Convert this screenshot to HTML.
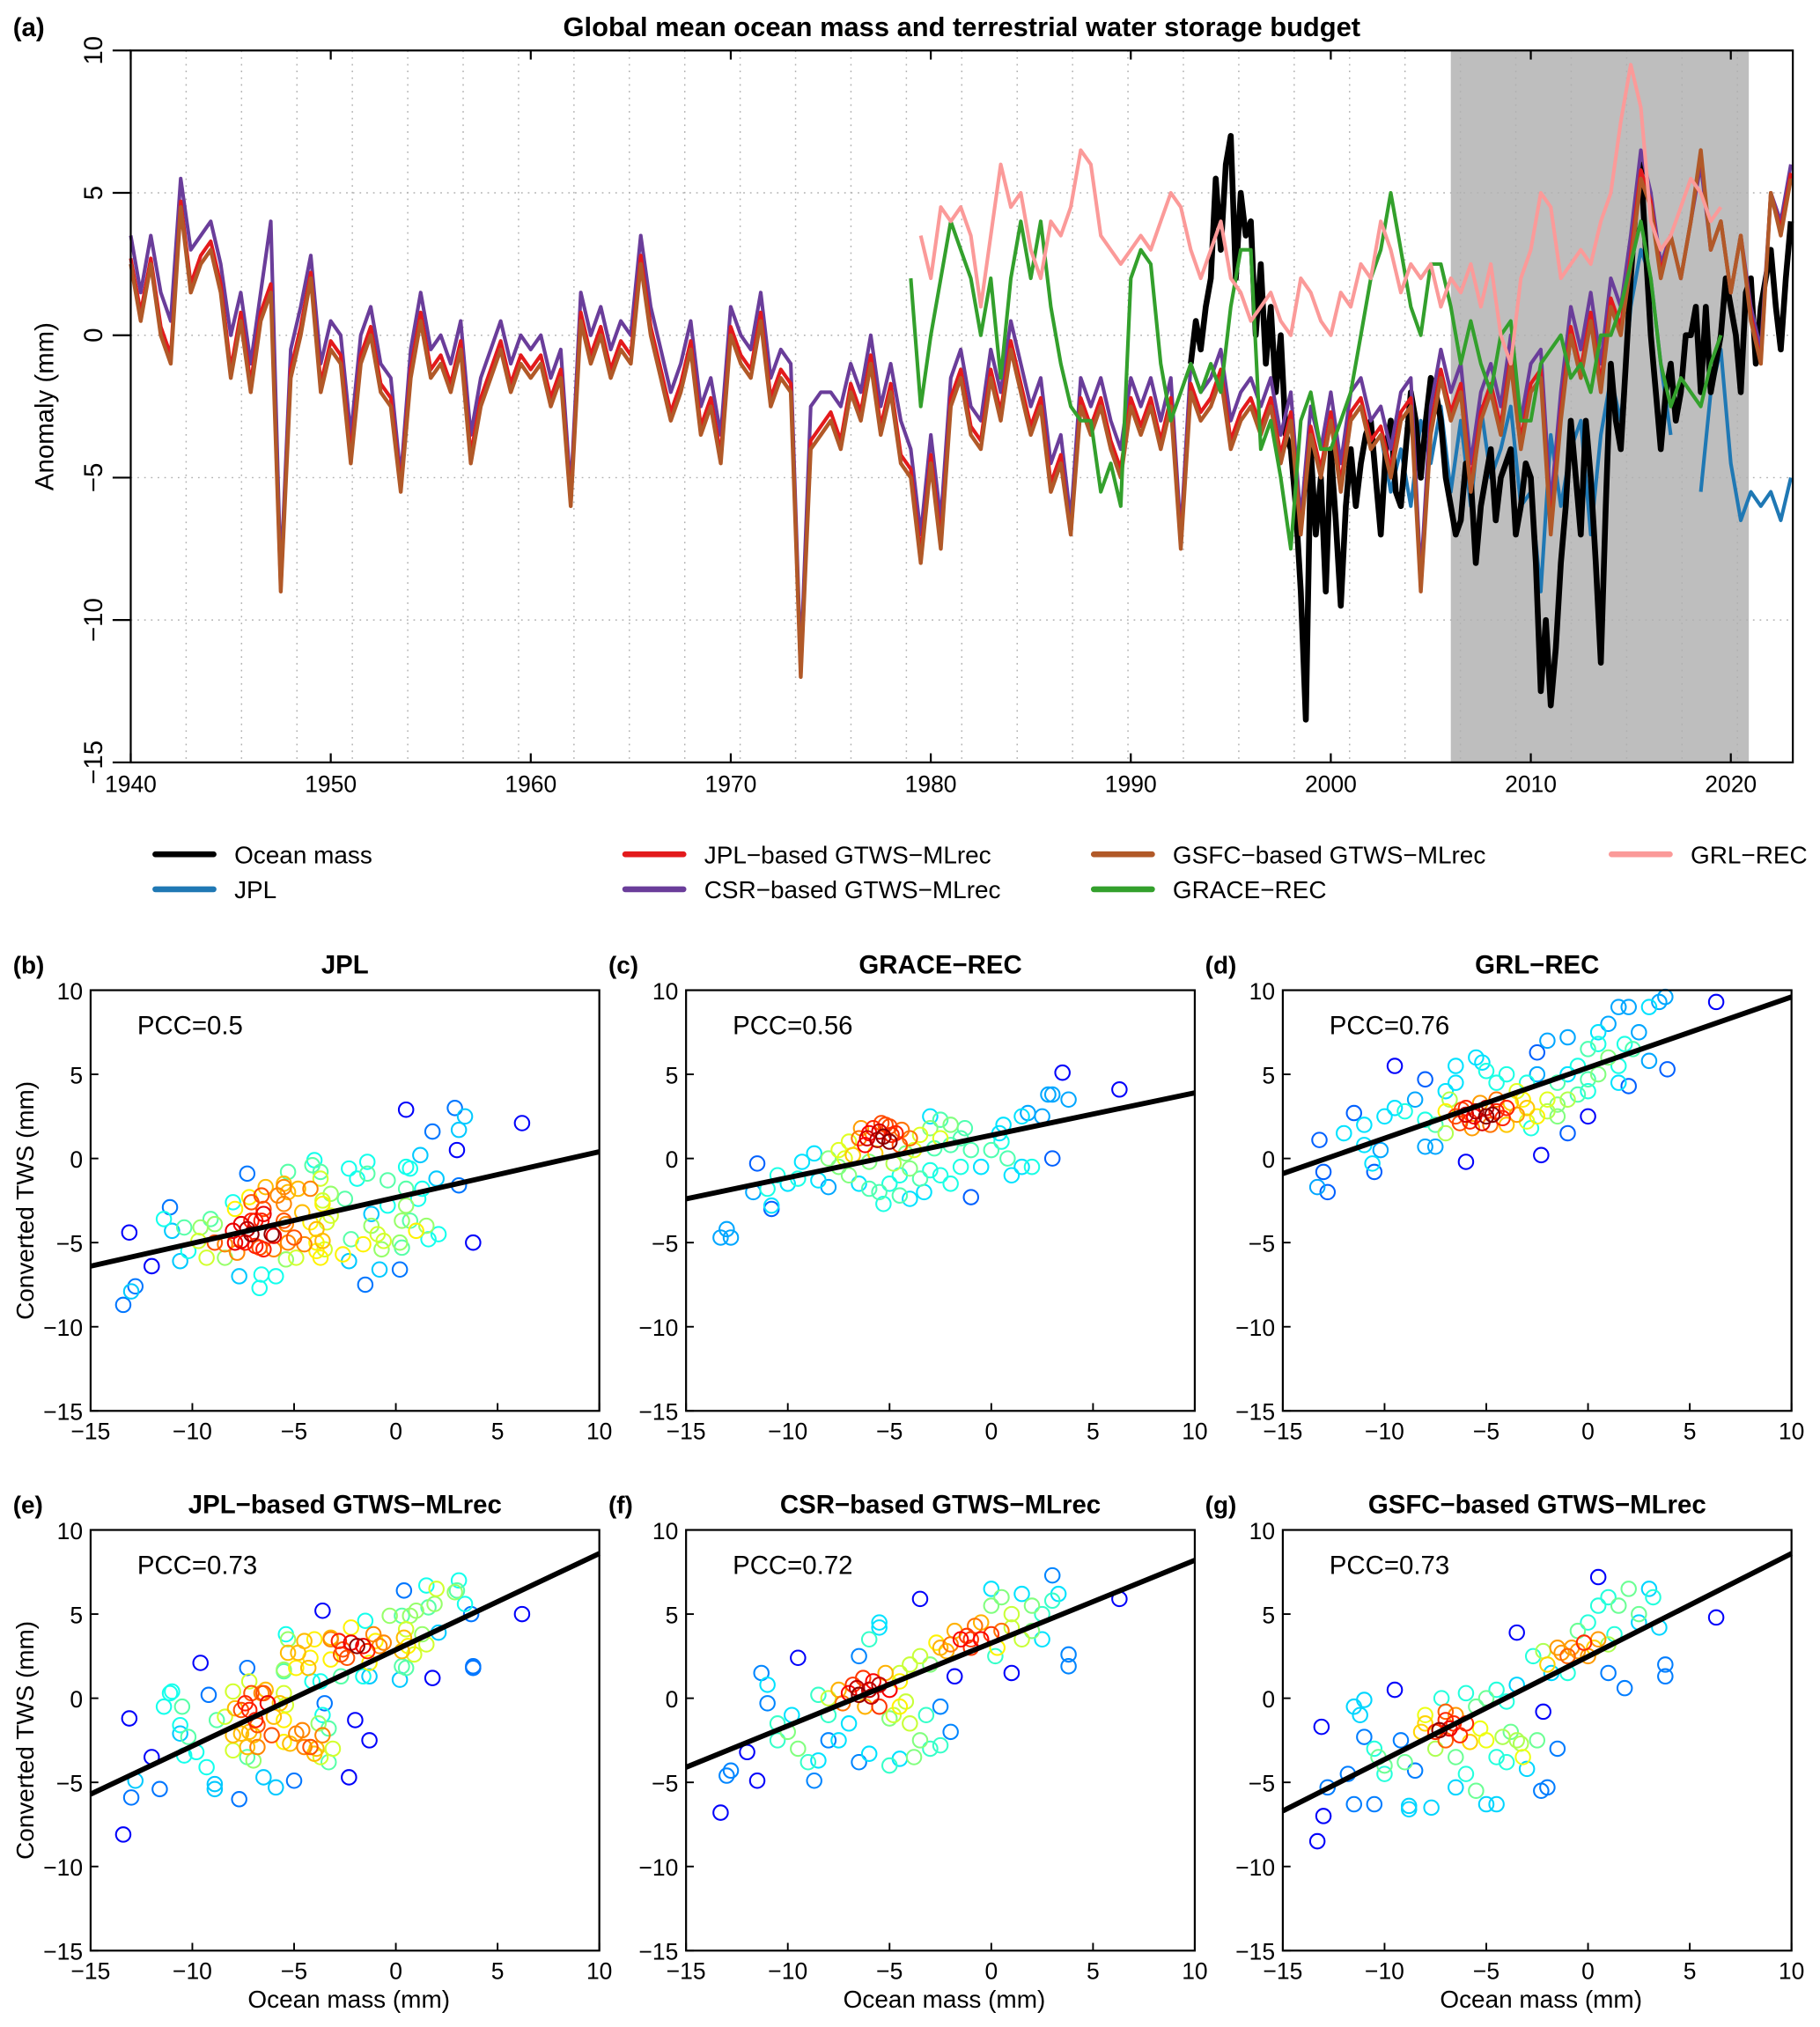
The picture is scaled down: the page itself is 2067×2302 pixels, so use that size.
<!DOCTYPE html>
<html><head><meta charset="utf-8"><style>
html,body{margin:0;padding:0;background:#fff}
svg{display:block;font-family:"Liberation Sans",Arial,sans-serif}
</style></head><body>
<svg id="fig" width="2067" height="2302" viewBox="0 0 1406 1566" preserveAspectRatio="none" xmlns="http://www.w3.org/2000/svg"></svg>
<script>
// ---------- Panel (a) data ----------
const gsfcStart = 1940, halfStep = 0.5;
const gsfc = [2.5,0.5,2.5,0,-1,4.5,1.5,2.5,3,1.5,-1.5,0.5,-2,0.5,1.5,-9,-1.5,0,2,-2,
-0.5,-1,-4.5,-1,0,-2,-2.5,-5.5,-1.5,0.5,-1.5,-1,-2,-0.5,-4.5,-2.5,-1.5,-0.5,-2,-1,
-1.5,-1,-2.5,-1.5,-6,0.5,-1,0,-1.5,-0.5,-1,2.5,0,-1.5,-3,-2,-0.5,-3.5,-2.5,-4.5,
0,-1,-1.5,0.5,-2.5,-1.5,-2,-12,-4,-3.5,-3,-4,-2,-3,-1,-3.5,-2,-4.5,-5,-8,
-4.5,-7.5,-2.5,-1.5,-3.5,-4,-1.5,-3,-0.5,-2,-3.5,-2.5,-5.5,-4.5,-7,-2.5,-3.5,-2.5,-4,-5,
-2.5,-3.5,-2.5,-4,-2.5,-7.5,-2,-3,-2.5,-1.5,-4,-3,-2.5,-3.5,-2.5,-4.5,-3,-7,-3.5,-5,
-3,-5.5,-3,-2.5,-4,-3.5,-5,-3,-2.5,-9,-3.5,-1.5,-3,-2,-5.5,-3,-2,-3.5,-1,-4,
-2,-1.5,-7,-3,0,-1.5,0.5,-2,1,0,2.5,5.5,4.5,2,3.5,2,4,6.5,3,4,
1.5,3.5,0.5,-1,5,3.5,5.5];
const csr = [3.5,1.5,3.5,1.5,0.5,5.5,3,3.5,4,2.5,0,1.5,-1,1.5,4,-8.5,-0.5,1,2.8,-1,
0.5,0,-3.5,0,1,-1,-1.5,-5,-0.5,1.5,-0.5,0,-1,0.5,-3.5,-1.5,-0.5,0.5,-1,0,
-0.5,0,-1.5,-0.5,-5.5,1.5,0,1,-0.5,0.5,0,3.5,1,-0.5,-2,-1,0.5,-2.5,-1.5,-3.5,
1,0,-0.5,1.5,-1.5,-0.5,-1,-11.5,-2.5,-2,-2,-2.5,-1,-2,0,-2.5,-1,-3,-4,-7,
-3.5,-6.5,-1.5,-0.5,-2.5,-3,-0.5,-2,0.5,-1,-2.5,-1.5,-4.5,-3.5,-6.5,-1.5,-2.5,-1.5,-3,-4,
-1.5,-2.5,-1.5,-3,-1.5,-7,-1,-2,-1.5,-0.5,-3,-2,-1.5,-2.5,-1.5,-3.5,-2,-6.5,-2.5,-4,
-2,-4.5,-2,-1.5,-3,-2.5,-4,-2,-1.5,-8.5,-2.5,-0.5,-2,-1,-4.5,-2,-1,-2.5,0,-3,
-1,-0.5,-6,-2,1,-0.5,1.5,-1,2,1,3.5,6.5,5,2.5,3.5,2,4,6,3,4,
1.5,3.5,1,-0.5,5,4,6];
const jplRec = [2.7,0.8,2.7,0.3,-0.7,4.7,1.8,2.8,3.3,1.8,-1.2,0.8,-1.7,0.8,1.8,-8.9,-1.2,0.3,2.2,-1.7,
-0.2,-0.7,-4.2,-0.7,0.3,-1.7,-2.2,-5.3,-1.2,0.8,-1.2,-0.7,-1.7,-0.2,-4.2,-2.2,-1.2,-0.2,-1.7,-0.7,
-1.2,-0.7,-2.2,-1.2,-5.8,0.8,-0.7,0.3,-1.2,-0.2,-0.7,2.8,0.3,-1.2,-2.7,-1.7,-0.2,-3.2,-2.2,-4.2,
0.3,-0.7,-1.2,0.8,-2.2,-1.2,-1.7,-11.9,-3.7,-3.2,-2.7,-3.7,-1.7,-2.7,-0.7,-3.2,-1.7,-4.2,-4.7,-7.7,
-4.2,-7.2,-2.2,-1.2,-3.2,-3.7,-1.2,-2.7,-0.2,-1.7,-3.2,-2.2,-5.2,-4.2,-7,-2.2,-3.2,-2.2,-3.7,-4.7,
-2.2,-3.2,-2.2,-3.7,-2.2,-7.3,-1.7,-2.7,-2.2,-1.2,-3.7,-2.7,-2.2,-3.2,-2.2,-4.2,-2.7,-6.9,-3.2,-4.7,
-2.7,-5.2,-2.7,-2.2,-3.7,-3.2,-4.7,-2.7,-2.2,-8.9,-3.2,-1.2,-2.7,-1.7,-5.2,-2.7,-1.7,-3.2,-0.7,-3.7,
-1.7,-1.2,-6.7,-2.7,0.3,-1.2,0.8,-1.7,1.3,0.3,2.8,5.8,4.7,2.2,3.5,2,4,6.4,3,4,
1.5,3.5,0.7,-0.9,5,3.7,5.7];
const oceanStart = 1993, quarterStep = 0.25;
const ocean = [-1,0.5,-0.5,1, 2,5.5,3,6, 7,2,5,3.5, 4,0,2.5,-1, 1,-2,0,-3.5, -4,-6,-9,-13.5,
-4,-7,-5,-9, -4,-6.5,-9.5,-6, -4,-6,-4.5,-3.5, -3,-5,-7,-4, -3,-5.5,-6,-4, -2,-3,-5,-3,
-1.5,-2,-3,-5, -6,-7,-6.5,-4.5, -5,-8,-6,-5, -4,-6.5,-5,-4.5, -4,-7,-6,-4.5, -5,-8,-12.5,-10,
-13,-11,-8,-6, -3,-5,-7,-3, -5,-8,-11.5,-6, -1,-3,-4,-1, 2,4.5,6,3, 0,-2,-4,-2,
-1,-3,-2,0, 0,1,-2,1, -2,-1,0,2, 1,0,-2,1.5, 2,-1,1,2, 3,1,-0.5,2, 4];
const jplStart = 2002.5;
const jpl = [-3.5,-5.5,-4,-6,-3,-4.5,-2.5,-5.5,-3,-6,-2.5,-5,-4,-2.5,-6,-5.5,-9,-3.5,-6,-4,
-3,-7,-3.5,-1.5,-3,1,3,2,-1,-3.5,null,null,-5.5,-2,-0.5,-4.5,-6.5,-5.5,-6,-5.5,-6.5,-5];
const graceStart = 1979;
const graceRec = [2,-2.5,0,2,4,3,2,0,2,-1.5, 2,4,2,4,1,-1,-2.5,-3,-3,-5.5,
-4.5,-6,2,3,2.5,-1,-3,-2,-1,-2, -1,-2,1,3,3,-4,-3,-5,-7.5,-3,
-2,-4,-4,-3,-2,0,2,3,5,3, 1,0,2.5,2.5,1,-1,0.5,-1,-2,0,
0.5,-3,-3,-1,-0.5,0,-1.5,-1,-2,0, 0,1,2.5,4,2,-1,-2.5,-1.5,-2,-2.5, -1,0];
const grlStart = 1979.5;
const grlRec = [3.5,2,4.5,4,4.5,3.5,1,3.5,6,4.5, 5,3,2,4,3.5,4.5,6.5,6,3.5,3,
2.5,3,3.5,3,4,5,4.5,3,2,3, 4,2,1.5,0.5,1,1.5,0.5,0,2,1.5,
0.5,0,1.5,1,2.5,2,4,3,1.5,2.5, 2,2.5,1,2,1.5,2.5,1,2.5,0,-1,
2,3,5,4.5,2,2.5,3,2.5,4,5, 7.5,9.5,8,4,3,3.5,4.5,5.5,5,4, 4.5];
const xTicksA = [1940,1950,1960,1970,1980,1990,2000,2010,2020];
const yTicksA = [10,5,0,-5,-10,-15];
const shadeYears = [2006, 2020.9];

// ---------- Scatter data ----------
const panelTitles = ["JPL","GRACE\u2212REC","GRL\u2212REC","JPL\u2212based GTWS\u2212MLrec","CSR\u2212based GTWS\u2212MLrec","GSFC\u2212based GTWS\u2212MLrec"];
const panelLetters = ["(b)","(c)","(d)","(e)","(f)","(g)"];
const pccValues = ["0.5","0.56","0.76","0.73","0.72","0.73"];
const fitAtMinus15 = [-6.4,-2.4,-0.9,-5.7,-4.1,-6.7];
const fitAt10 = [0.4,3.9,9.6,8.6,8.2,8.6];
const scatterTicks = [-15,-10,-5,0,5,10];
const ptsB = [[0.5,2.9],[2.9,3],[3.4,2.5],[6.2,2.1],[1.8,1.6],[3.1,1.7],[3,0.5],[1.2,0.2],[3.1,-1.6],[3.8,-5],[-13.1,-4.4],[-13.4,-8.7],[-13,-7.9],[-12.8,-7.6],[-12,-6.4],[-11.4,-3.6],[-11.1,-2.9],[-7.3,-0.9],[-10.6,-6.1],[-7.7,-7],[-6.7,-7.7],[-6.6,-6.9],[-5.9,-7],[-1.5,-7.5],[-0.8,-6.6],[0.2,-6.6],[-4,-0.1],[-4.1,-0.4],[2.1,-4.5],[2,-1.2],
[-11,-4.3],[-10.4,-4.1],[-10.2,-5.5],[-9.3,-5.9],[-9.7,-4.9],[-9.6,-4.1],[-9.1,-3.6],[-8.9,-3.9],[-8.4,-5.9],[-7.8,-5.6],[-8,-2.6],[-7.9,-3],[-7.2,-2.3],[-6.6,-2.2],[-6.4,-1.7],[-7.1,-2.6],[-5.5,-1.5],[-5.3,-0.8],[-5.4,-6],[-4.9,-5.9],[-3.7,-0.8],[-3.7,-1.2],[-4.2,-1.8],[-3.2,-2.1],[-3.6,-2.5],[-2.5,-2.4],[-2.3,-0.6],[-1.4,-0.2],[-1.9,-1.2],[-1.4,-0.9],[-0.4,-1.3],[0.5,-0.5],[0.7,-0.6],[0.5,-1.8],[1.1,-2.4],[1.3,-1.8],[-0.4,-2.8],[0.5,-2.8],[-1.2,-3.3],[-1.2,-4],[-0.9,-4.5],[-0.6,-4.9],[-0.7,-5.4],[-1.6,-5.1],[-2.2,-4.8],[0.3,-3.7],[0.7,-3.7],[1,-4.3],[1.5,-4],[1.6,-4.8],[0.2,-5],[0.3,-5.3],[-2.6,-5.7],[-2.3,-6.1],[-3.7,-5.9],[-3.9,-5.5],[-3.5,-5.4],
[-8.9,-5],[-8.4,-5.1],[-7.9,-5],[-8,-4.3],[-7.6,-3.9],[-7.3,-4.2],[-7.1,-3.7],[-6.9,-3.7],[-6.6,-3.7],[-7.6,-4.9],[-7.4,-5],[-7.1,-4.5],[-6.9,-5.2],[-6.7,-5.3],[-6.5,-3.3],[-6.5,-3],[-6.1,-4.5],[-6,-4.6],[-6,-5.4],[-6.5,-5.4],[-5.5,-3.7],[-5.4,-3.9],[-5.3,-5],[-5,-4.7],[-5.5,-2.7],[-5.8,-2.2],[-5.3,-2],[-4.8,-1.8],[-5.5,-1.7],[-4.6,-3.2],[-4.2,-3.8],[-4.5,-5.1],[-3.9,-4.2],[-3.9,-5],[-3.6,-4.9],[-3.4,-3.8],[-3.2,-3.4],[-3.6,-2.7]];
const ptsC = [[-13.3,-4.7],[-13,-4.2],[-12.8,-4.7],[-11.5,-0.3],[-10.8,-2.8],[-10.8,-3],[-10.5,-1],[-8.5,-1.3],[-5.3,-2.7],[-4.5,-2.2],[-4,-2.4],[-1,-2.3],[0.4,1.5],[0.6,2],[1.5,2.5],[1.8,2.7],[2.5,2.5],[2.8,3.8],[3,3.8],[3.5,5.1],[3.8,3.5],[6.3,4.1],[1.5,-0.5],[2,-0.5],[3,0],[-11.7,-2],[-8,-1.7],
[-11,-1.8],[-10,-1.5],[-9.5,-1.2],[-9.3,-0.2],[-8.7,0.3],[-8,0],[-7.5,-0.5],[-7,-1],[-6.5,-1.5],[-6,-1.8],[-5,-1.5],[-4.5,-1],[-4,-0.6],[-3.5,-1.2],[-3,-0.7],[-2.5,-1],[-2,-1.5],[-1.5,-0.5],[-1,0.5],[0,0.5],[0.5,1],[-1.3,1.8],[-2,2],[-3,2.5],[-2.5,2.3],[-0.5,-0.5],[0.8,0],[1,-1],[-5.5,-2],[-4.8,-0.3],[-3.3,-2],
[-7.5,0.5],[-7,1],[-6.5,1.2],[-6,1.5],[-5.8,1.8],[-5.5,1.6],[-5.3,1.3],[-5,1.9],[-5,1],[-4.7,1.5],[-4.5,0.8],[-6.2,0.8],[-6.8,0.2],[-7.2,0],[-5.7,0.3],[-4,1.2],[-3.5,1.4],[-3,1.8],[-2.5,1.2],[-2,0.8],[-4.2,0.3],[-6,-0.2],[-3.8,0.5],[-2.8,0.6],[-1.5,1.2],[-5.2,2],[-6.4,1.8],[-4.4,1.7],[-5.6,1.1],[-4.9,1.4],[-6.1,1.2],[-5.4,2.1]];
const ptsD = [[-13.3,-1.7],[-13.2,1.1],[-13,-0.8],[-12.8,-2],[-12,1.5],[-11.5,2.7],[-11,0.8],[-10.6,-0.3],[-10.5,-0.8],[-10.2,0.5],[-9.5,5.5],[-8,4.7],[-6.5,5.5],[-5.5,6],[-5.2,5.7],[-4,5],[-2.5,6.3],[-2,7],[-6,-0.2],[-2.3,0.2],[-1,1.5],[0.5,7.5],[1.5,9],[2,9],[3,9],[3.5,9.3],[3.8,9.6],[6.3,9.3],[2.5,7.5],[3.9,5.3],[3,5.8],[1,8],[0,6.5],[-1,7.2],
[-11,2],[-10,2.5],[-9.5,3],[-9,2.8],[-8.5,3.5],[-8,2.3],[-7.5,2],[-7,1.5],[-7,4],[-6.5,4.5],[-5,5.2],[-4.5,4.5],[-4,3],[-3.5,4],[-3,4.5],[-2.5,5],[-2,3.5],[-1.5,4.5],[-1,5],[-0.5,5.5],[0,4],[0.5,5],[1,6],[1.5,5.5],[1.5,4.5],[2,4.3],[0,2.5],[-1.5,2.5],[-3,3],[-7.5,0.7],[-8,0.7],[0.5,6.8],[1.8,6.8],[2.2,6.5],
[-7,2.8],[-6.5,2.5],[-6,2.6],[-6,3],[-5.8,2.2],[-5.5,2.8],[-5.3,3.3],[-5,2.5],[-5,3],[-4.8,2],[-4.5,2.8],[-4.5,3.5],[-4.2,2.4],[-4,2],[-3.8,3.3],[-3.5,2.6],[-3,2.2],[-2.5,2.5],[-2,2.8],[-6.8,3.5],[-5.7,1.8],[-3.2,3.5],[-1.5,3.2],[-1,3.5],[-0.5,3.8],[0,4.7],[-6.3,2.1],[-5.2,2.1],[-2.8,1.8],[-5.6,2.5],[-4.7,2.6],[-6.2,2.9]];
const ptsE = [[-13.4,-8.1],[-13,-5.9],[-12.8,-4.9],[-11.6,-5.4],[-12,-3.5],[-13.1,-1.2],[-9.6,2.1],[-11.4,-0.5],[-11.1,0.3],[-11,0.4],[-8.9,-5.1],[-8.9,-5.4],[-7.7,-6],[-6.5,-4.7],[-5.9,-5.3],[-5,-4.9],[-3.6,5.2],[-2.3,-4.7],[-1.3,-2.5],[1.8,1.2],[3.8,1.9],[3.8,1.8],[6.2,5],[3.1,7],[3,6.4],[3.7,5],
[-10.5,-0.5],[-10.6,-1.6],[-10.6,-2.1],[-10.2,-2.3],[-10.4,-3.4],[-9.8,-3.2],[-9.3,-4.1],[-7.3,1.8],[-5.4,3.8],[-5.3,3.5],[-2,-1.3],[0.4,6.4],[1.5,6.7],[2,6.5],[2.9,6.3],[3.4,5.6],[0.2,1.1],[0.5,1.8],
[-9.2,0.2],[-8.8,-1.3],[-8,-3.1],[-7.3,-3.5],[-7,-3.7],[-8,0.4],[-7.2,1],[-4.5,3.4],[-4,3.5],[-5.3,2.7],[-3.5,-0.3],[-3.6,-1],[-3.3,-1.8],[-3.6,-2.2],[-3.1,-3],[-3.9,-3],[-4,-3.3],[-3.3,-3.8],[-3.7,-3.5],[-2.2,4.2],[-1.5,4.6],[-1.6,1.3],[-1.3,1.3],[0.3,1.9],[1.6,5.4],[1.9,5.6],[1,5.2],[2.1,3.9],[1.5,3.2],
[-8.4,-1.1],[-8,-2.2],[-7.3,-2.9],[-6.8,-2.9],[-5.5,1.6],[-4.8,2.7],[-4.1,1],[-3.8,-1.5],[-4.5,-2.9],[-4.2,-2.9],[-3.2,3.6],[-2.7,1.3],[-3.7,1],[-0.3,4.9],[0.3,4.9],[0.7,4.9],[1.3,3.8],[0.9,2.6],
[-7.6,-2.1],[-7.1,0.3],[-6.5,0.3],[-5.5,1.7],[-4.9,1.8],[-4.3,1.8],[-4.2,2.4],[-5.5,-2.6],[-5.2,-2.7],[-4.9,-2.1],[-4.6,-1.9],[-3.2,3.5],[-2.8,3.4],[-1.1,3.8],[0.4,3.6],[0.5,4.1],[0.3,2.8],[0.6,3.1],
[-7.9,-0.6],[-7.6,-0.7],[-7.4,-0.3],[-7.2,-0.7],[-6.9,-1.3],[-6.8,-1.6],[-6.6,0.3],[-6.4,0.5],[-6.3,-0.3],[-6,-1.1],[-6.1,-2.2],[-7.2,-2],[-7,-2.2],[-5.5,0.3],[-5.4,-0.4],[-5.5,-1.3],[-5.7,-0.3],[-3.2,2.3],[-2.7,2.6],[-2.4,2.4],[-2.2,3.3],[-1.9,3.1],[-1.6,3.1],[-1.4,2.8],[-1.3,2.1],[-1,3.4],[-0.8,3.1],[-0.6,3.3],[-2.6,2.9]];
const ptsF = [[-13.3,-6.8],[-13,-4.6],[-12.8,-4.3],[-12,-3.2],[-11.5,-4.9],[-11.3,1.5],[-11,-0.3],[-10.5,-2.5],[-9.5,2.4],[-9,-3.8],[-8.7,-4.9],[-8.5,-3.7],[-6,-3.3],[-5.5,4.5],[-5,-4],[-4.5,-3.6],[-3.5,5.9],[-2.5,-2.8],[0,6.5],[2,4],[3,7.3],[3.8,2.6],[3.8,1.9],[6.3,5.9],[1,1.5],[-6.5,-3.8],[-3.8,-3.5],
[-11,0.8],[-10.5,-1.5],[-10,-2],[-9.8,-1],[-9.5,-3],[-8.5,0.2],[-8,-1],[-7.5,-2.5],[-7,-1.5],[-6.5,2.5],[-6,3.5],[-5.5,4.2],[-4.5,-0.5],[-4,-1.5],[-3.5,-2.5],[-3.2,-1],[-3,-3],[-2.5,-0.5],[-1,3.5],[-0.5,4.5],[0,5.5],[0.5,6],[1,5],[1.5,6.2],[2,5.5],[2.5,5],[3,5.8],[3.3,6.2],[0.2,2.5],[-1.8,1.3],[2.5,3.5],[-8,-2.5],[-5,-1.2],[-2,-2],
[-8,0],[-7.5,0.5],[-7,0.3],[-6.8,0.8],[-6.5,0.2],[-6.2,-0.5],[-6,0.5],[-5.8,1],[-5.5,0.8],[-5.2,1.5],[-5,0.5],[-5.5,-0.5],[-6.3,1.2],[-4.5,1.5],[-4,2],[-3.5,2.5],[-2.5,3],[-2.2,2.8],[-2,3.2],[-1.5,3.5],[-1,3],[-0.5,3.5],[0,3.8],[0.5,4],[1,4.2],[1.5,3.5],[-7.3,-0.3],[-4.8,-1],[-4.2,-0.2],[-3,2],[-1.8,4],[-0.8,4.3],[-4.5,1],[0.3,3],[-6.6,0.6],[-5.9,0.1],[-2.7,3.3],[-1.2,3.7]];
const ptsG = [[-13.3,-8.5],[-13,-7],[-13.1,-1.7],[-12.8,-5.3],[-11.8,-4.5],[-11.5,-6.3],[-11,-0.1],[-11.2,-1],[-10.5,-6.3],[-10,-4.5],[-9.5,0.5],[-8.8,-6.4],[-8.8,-6.6],[-7.7,-6.5],[-6.5,-5.3],[-5.5,-5.5],[-5,-6.3],[-4.5,-6.3],[-3.5,3.9],[-2.3,-5.5],[-1.5,-3],[0.5,7.2],[1.8,0.6],[3.8,2],[3.8,1.3],[6.3,4.8],[3.5,4.2],[-2,-5.3],
[-11.5,-0.5],[-11,-2.3],[-10.5,-3],[-10.3,-3.5],[-10,-4],[-9.2,-2.5],[-9,-3.8],[-8.5,-4.3],[-8,-1],[-7.5,-3],[-6.5,-3.5],[-6,-4.5],[-5,-2.5],[-4.5,-3.5],[-3.5,-2.5],[-3.2,-3.5],[-3,-4.2],[-2.5,-2.5],[-3.5,0.8],[-2.2,-0.8],[-1,1.5],[-0.5,4],[0,4.5],[0.5,5.5],[1,6],[1.5,5.5],[2,6.5],[2.5,5],[3,6.5],[3.2,6],[1,1.5],[2.5,4.5],[-4,-3.8],[-7,-0.8],[-8.2,-2],
[-8,-1.5],[-7.5,-2],[-7,-1.3],[-7,-2.5],[-6.8,-1.8],[-6.5,-1],[-6.3,-2.2],[-6,-1.5],[-5.8,-2.6],[-5.5,-0.5],[-5.3,-1.8],[-5,0],[-4.5,0.5],[-4,-0.2],[-3.8,-2],[-3.3,-2.7],[-2.7,2.5],[-2.2,2.8],[-2,2],[-1.5,3],[-1,2.5],[-0.8,3],[-0.5,2.8],[0,2.5],[0.3,3],[0.5,3.5],[1,3.2],[-7.2,0],[-6,0.3],[-4.2,-2.3],[-1.8,1.5],[-0.2,3.3],[1.3,3.8],[-6.6,-1.5],[-7.3,-1.9],[-1.3,2.7]];
const scatterSets = [ptsB, ptsC, ptsD, ptsE, ptsF, ptsG];

// ---------- drawing ----------
const NS = "http://www.w3.org/2000/svg";
const svg = document.getElementById('fig');
function mk(tag, attrs, parent) {
  const e = document.createElementNS(NS, tag);
  for (const k in attrs) e.setAttribute(k, attrs[k]);
  (parent || svg).appendChild(e);
  return e;
}
function txt(s, attrs, parent) { const t = mk('text', attrs, parent); t.textContent = s; return t; }

const A = {l:101, r:1385, t:39, b:589, x0:1940, x1:2023.1, y0:-15, y1:10};
const ax = v => A.l + (v - A.x0) / (A.x1 - A.x0) * (A.r - A.l);
const ay = v => A.b - (v - A.y0) / (A.y1 - A.y0) * (A.b - A.t);

const gA = mk('g', {});



let e;
e = txt('(a)', {x:10, y:28, 'font-size':20, 'font-weight':'bold'}, gA);
 
e = txt('Global mean ocean mass and terrestrial water storage budget', {x:743, y:28, 'font-size':21, 'font-weight':'bold', 'text-anchor':'middle'}, gA);
 

e = mk('rect', {x:ax(shadeYears[0]), y:A.t, width:ax(shadeYears[1]) - ax(shadeYears[0]), height:A.b - A.t, fill:'#bebebe'}, gA);
 

const grid = mk('g', {stroke:'#b0b0b0', 'stroke-width':1, 'stroke-dasharray':'1.2 4'}, gA);
 
for (let i = 1; i < 30; i++) { const x = A.l + i * (A.r - A.l) / 30; mk('line', {x1:x, x2:x, y1:A.t, y2:A.b}, grid); }
[5,0,-5,-10].forEach(v => mk('line', {x1:A.l, x2:A.r, y1:ay(v), y2:ay(v)}, grid));

function seriesPath(vals, start, step) {
  let d = '', pen = false;
  vals.forEach((v, i) => {
    if (v === null) { pen = false; return; }
    d += (pen ? 'L' : 'M') + ax(start + i * step).toFixed(1) + ' ' + ay(v).toFixed(1);
    pen = true;
  });
  return d;
}
const seriesDefs = [
  {name:'series-jpl', vals:jpl, start:jplStart, step:halfStep, color:'#1f78b4', w:2.8},
  {name:'series-ocean-mass', vals:ocean, start:oceanStart, step:quarterStep, color:'#000000', w:4.5},
  {name:'series-csr-gtws', vals:csr, start:gsfcStart, step:halfStep, color:'#6a3d9a', w:2.8},
  {name:'series-jpl-gtws', vals:jplRec, start:gsfcStart, step:halfStep, color:'#e31a1c', w:2.8},
  {name:'series-gsfc-gtws', vals:gsfc, start:gsfcStart, step:halfStep, color:'#b15928', w:3},
  {name:'series-grace-rec', vals:graceRec, start:graceStart, step:halfStep, color:'#33a02c', w:2.8},
  {name:'series-grl-rec', vals:grlRec, start:grlStart, step:halfStep, color:'#fb9a99', w:2.8}
];
seriesDefs.forEach(s => {
  const p = mk('path', {d:seriesPath(s.vals, s.start, s.step), fill:'none', stroke:s.color, 'stroke-width':s.w, 'stroke-linejoin':'round'}, gA);
  
  
});

e = mk('rect', {x:A.l, y:A.t, width:A.r - A.l, height:A.b - A.t, fill:'none', stroke:'#000', 'stroke-width':1.5}, gA);
 
const yAx = mk('g', {}, gA);
 
yTicksA.forEach(v => {
  mk('line', {x1:A.l - 14, x2:A.l, y1:ay(v), y2:ay(v), stroke:'#000', 'stroke-width':1.5}, yAx);
  const lab = v < 0 ? '\u2212' + Math.abs(v) : String(v);
  txt(lab, {x:0, y:0, 'font-size':20, 'text-anchor':'middle', transform:`translate(${A.l - 22},${ay(v)}) rotate(-90)`}, yAx);
});
e = txt('Anomaly (mm)', {x:0, y:0, 'font-size':20, 'text-anchor':'middle', transform:`translate(41,${(A.t + A.b) / 2}) rotate(-90)`}, gA);
 
const xAx = mk('g', {}, gA);
 
xTicksA.forEach(v => {
  mk('line', {x1:ax(v), x2:ax(v), y1:A.b, y2:A.b - 7, stroke:'#000', 'stroke-width':1.5}, xAx);
  mk('line', {x1:ax(v), x2:ax(v), y1:A.t, y2:A.t + 7, stroke:'#000', 'stroke-width':1.5}, xAx);
  txt(String(v), {x:ax(v), y:612, 'font-size':18, 'text-anchor':'middle'}, xAx);
});

const legendItems = [
  {label:'Ocean mass', color:'#000000', x:120, y:660},
  {label:'JPL', color:'#1f78b4', x:120, y:687},
  {label:'JPL\u2212based GTWS\u2212MLrec', color:'#e31a1c', x:483, y:660},
  {label:'CSR\u2212based GTWS\u2212MLrec', color:'#6a3d9a', x:483, y:687},
  {label:'GSFC\u2212based GTWS\u2212MLrec', color:'#b15928', x:845, y:660},
  {label:'GRACE\u2212REC', color:'#33a02c', x:845, y:687},
  {label:'GRL\u2212REC', color:'#fb9a99', x:1245, y:660}
];
const leg = mk('g', {});
 
legendItems.forEach(it => {
  const g = mk('g', {}, leg);
  
  
  mk('line', {x1:it.x, x2:it.x + 45, y1:it.y, y2:it.y, stroke:it.color, 'stroke-width':4.5, 'stroke-linecap':'round'}, g);
  txt(it.label, {x:it.x + 61, y:it.y + 7, 'font-size':19}, g);
});

function jet(t) {
  const c = v => Math.round(255 * Math.max(0, Math.min(1, v)));
  return `rgb(${c(1.5 - Math.abs(4 * t - 3))},${c(1.5 - Math.abs(4 * t - 2))},${c(1.5 - Math.abs(4 * t - 1))})`;
}
const colLeft = [70, 530, 991], rowTop = [765, 1182], PW = 393, PH = 325;
scatterSets.forEach((pts, k) => {
  const L = colLeft[k % 3], T = rowTop[Math.floor(k / 3)];
  const sx = v => L + (v + 15) / 25 * PW;
  const sy = v => T + PH - (v + 15) / 25 * PH;
  const g = mk('g', {});
  
  
  e = txt(panelLetters[k], {x:L - 60, y:T - 13, 'font-size':19, 'font-weight':'bold'}, g);
   
  e = txt(panelTitles[k], {x:L + PW / 2, y:T - 13, 'font-size':20, 'font-weight':'bold', 'text-anchor':'middle'}, g);
   
  const dens = pts.map(p => pts.filter(q => Math.hypot(q[0] - p[0], (q[1] - p[1]) * 1.2) < 1.4).length);
  const dmax = Math.max(...dens), dmin = Math.min(...dens);
  const order = pts.map((p, i) => i).sort((a, b) => dens[a] - dens[b]);
  order.forEach(i => {
    const t = 0.12 + 0.87 * Math.pow((dens[i] - dmin) / (dmax - dmin), 0.75);
    const c = mk('circle', {cx:sx(pts[i][0]).toFixed(1), cy:sy(pts[i][1]).toFixed(1), r:5.6, fill:'none', stroke:jet(t), 'stroke-width':1.4}, g);
    
    
  });
  e = mk('line', {x1:sx(-15), y1:sy(fitAtMinus15[k]), x2:sx(10), y2:sy(fitAt10[k]), stroke:'#000', 'stroke-width':4}, g);
   
  mk('rect', {x:L, y:T, width:PW, height:PH, fill:'none', stroke:'#000', 'stroke-width':1.5}, g);
  scatterTicks.forEach(v => {
    const lab = v < 0 ? '\u2212' + Math.abs(v) : String(v);
    mk('line', {x1:sx(v), x2:sx(v), y1:T + PH, y2:T + PH - 6, stroke:'#000', 'stroke-width':1.3}, g);
    mk('line', {x1:L, x2:L + 6, y1:sy(v), y2:sy(v), stroke:'#000', 'stroke-width':1.3}, g);
    txt(lab, {x:sx(v), y:T + PH + 22, 'font-size':18, 'text-anchor':'middle'}, g);
    txt(lab, {x:L - 6, y:sy(v) + 7, 'font-size':18, 'text-anchor':'end'}, g);
  });
  e = txt('PCC=' + pccValues[k], {x:L + 36, y:T + 34, 'font-size':20}, g);
   
  if (k % 3 === 0) {
    e = txt('Converted TWS (mm)', {x:0, y:0, 'font-size':19, 'text-anchor':'middle', transform:`translate(26,${T + PH / 2}) rotate(-90)`}, g);
     
  }
  if (k >= 3) {
    e = txt('Ocean mass (mm)', {x:L + PW / 2 + 3, y:T + PH + 44, 'font-size':19, 'text-anchor':'middle'}, g);
     
  }
});
</script>
</body></html>
